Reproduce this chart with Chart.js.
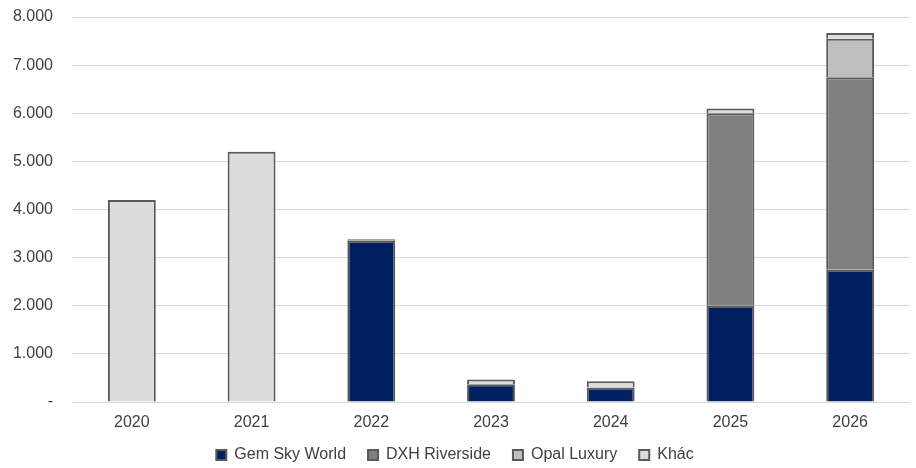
<!DOCTYPE html>
<html>
<head>
<meta charset="utf-8">
<script src="https://cdn.jsdelivr.net/npm/chart.js@4/dist/chart.umd.min.js"></script>
<style>
  body { margin: 0; background: #fff; }
</style>
</head>
<body>
<canvas id="chart" width="916" height="468"></canvas>
<script>
'use strict';

// Years on the x axis
const years = ['2020', '2021', '2022', '2023', '2024', '2025', '2026'];

// Stacked series
const gemSkyWorld = [0, 0, 3350, 370, 300, 2000, 2750];
const dxhRiverside = [0, 0, 30, 0, 0, 4000, 4000];
const opalLuxury = [0, 0, 0, 0, 0, 0, 800];
const khac = [4200, 5200, 0, 100, 130, 100, 120];

const yTicks = [0, 1000, 2000, 3000, 4000, 5000, 6000, 7000, 8000];

// 8000 -> "8.000", 0 -> "-"
function fmt(v) {
  if (v === 0) return '-';
  return v.toString().replace(/\B(?=(\d{3})+(?!\d))/g, '.');
}

function series(label, data, color) {
  return {
    label: label,
    data: data,
    backgroundColor: color,
    borderColor: '#5a5a5a',
    borderWidth: 2,
    barPercentage: 0.4,
    categoryPercentage: 1
  };
}

// x labels sit partly over the legend box, so don't clip them to the axis box
const unclipX = {
  id: 'unclipX',
  afterLayout: function (chart) {
    chart.scales.x.bottom = chart.height;
  }
};

Chart.defaults.font.family = '"Liberation Sans", Arial, sans-serif';
Chart.defaults.font.size = 16;
Chart.defaults.color = '#404040';

new Chart(document.getElementById('chart'), {
  type: 'bar',
  data: {
    labels: years,
    datasets: [
      series('Gem Sky World', gemSkyWorld, '#002060'),
      series('DXH Riverside', dxhRiverside, '#808080'),
      series('Opal Luxury', opalLuxury, '#bfbfbf'),
      series('Khác', khac, '#dcdcdc')
    ]
  },
  plugins: [unclipX],
  options: {
    responsive: false,
    animation: false,
    layout: { padding: { top: 17, right: 6, left: 0, bottom: 0 } },
    plugins: {
      tooltip: { enabled: false },
      legend: {
        position: 'bottom',
        maxHeight: 43,
        labels: {
          boxWidth: 10,
          boxHeight: 10,
          padding: 22,
          color: '#404040'
        }
      }
    },
    scales: {
      x: {
        stacked: true,
        grid: { display: false, drawTicks: false },
        border: { display: false },
        ticks: { padding: 11 },
        afterFit: function (scale) { scale.height = 23; }
      },
      y: {
        stacked: true,
        min: 0,
        max: 8000,
        afterBuildTicks: function (axis) {
          axis.ticks = yTicks.map(function (v) { return { value: v }; });
        },
        afterFit: function (scale) { scale.width = 72; },
        grid: {
          color: '#d9d9d9',
          lineWidth: 1,
          drawTicks: true,
          tickLength: 19,
          tickColor: 'rgba(0,0,0,0)'
        },
        border: { display: false },
        ticks: {
          padding: 0,
          callback: function (v) { return fmt(v); }
        }
      }
    }
  }
});
</script>
</body>
</html>
